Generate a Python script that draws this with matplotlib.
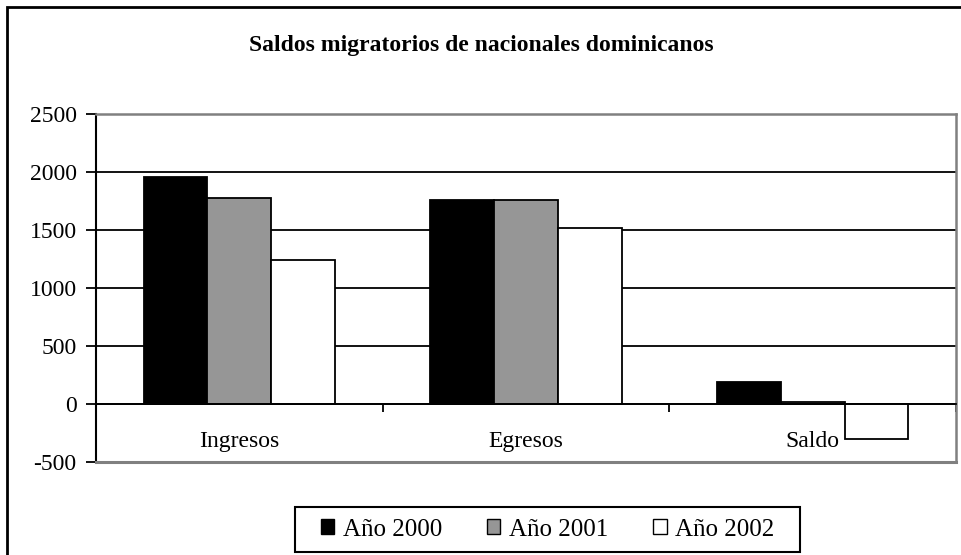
import matplotlib.pyplot as plt
from matplotlib.patches import Rectangle
import numpy as np

categories = ["Ingresos", "Egresos", "Saldo"]
years = ["Año 2000", "Año 2001", "Año 2002"]
values_2000 = [1957, 1762, 190]
values_2001 = [1774, 1755, 18]
values_2002 = [1245, 1521, -298]
colors = ["#000000", "#969696", "#ffffff"]
yticks = [-500, 0, 500, 1000, 1500, 2000, 2500]

plt.rcParams['font.family'] = ['Liberation Serif', 'DejaVu Serif']
plt.rcParams['axes.unicode_minus'] = False

fig = plt.figure(figsize=(9.62, 5.55), dpi=100)
ax = fig.add_axes([96 / 962, 1 - 462 / 555, 860 / 962, 348 / 555])

x = np.arange(len(categories))
width = 1 / 4.5
series = [values_2000, values_2001, values_2002]
for i, vals in enumerate(series):
    ax.bar(x + (i - 1) * width, vals, width, color=colors[i],
           edgecolor='black', linewidth=1.3, label=years[i], zorder=3)

ax.set_xlim(-0.5, len(categories) - 0.5)
ax.set_ylim(yticks[0], yticks[-1])
ax.set_yticks(yticks)
ax.set_yticklabels([str(t) for t in yticks])
ax.tick_params(axis='y', labelsize=17, length=7, width=1.3, pad=7, direction='out')

# horizontal gridlines
for t in yticks[1:-1]:
    ax.axhline(t, color='black', linewidth=1.3, zorder=1)

# category axis crossing at zero
ax.spines['bottom'].set_position(('data', 0))
ax.spines['bottom'].set_linewidth(1.3)
ax.spines['bottom'].set_zorder(4)
ax.set_xticks(np.arange(len(categories) + 1) - 0.5)
ax.set_xticklabels([])
ax.tick_params(axis='x', length=6, width=1.3, direction='out')
for xi, name in zip(x, categories):
    ax.text(xi, -320, name, ha='center', va='center', fontsize=17)

ax.spines['left'].set_linewidth(1.5)
for s in ['top', 'right']:
    ax.spines[s].set_color('#808080')
    ax.spines[s].set_linewidth(1.8)
ax.axhline(yticks[0], color='#808080', linewidth=2.2, clip_on=False, zorder=5)

fig.text(0.5, 1 - 46 / 555, "Saldos migratorios de nacionales dominicanos",
         ha='center', va='center', fontsize=17, fontweight='bold')

leg = fig.legend(loc='center', bbox_to_anchor=(547.5 / 962, 1 - 529.5 / 555),
                 ncol=3, fontsize=18, frameon=False,
                 handlelength=0.54, handleheight=0.54,
                 handletextpad=0.34, columnspacing=1.8, borderpad=0.2)
for h in leg.legend_handles:
    h.set_linewidth(1.0)

# legend box
fig.patches.append(Rectangle((295 / 962, 1 - 552 / 555), 505 / 962, 45 / 555,
                             transform=fig.transFigure, fill=False,
                             edgecolor='black', linewidth=1.5))

# outer chart frame
fig.patches.append(Rectangle((7 / 962, -0.05), 1.1, 1 - 7 / 555 + 0.05,
                             transform=fig.transFigure, fill=False,
                             edgecolor='black', linewidth=2))

fig.savefig("out.png", dpi=100)
